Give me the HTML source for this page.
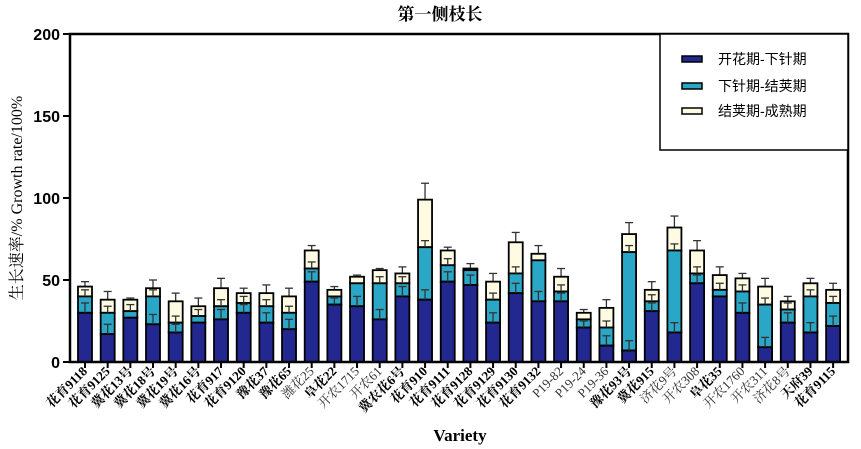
<!DOCTYPE html>
<html><head><meta charset="utf-8"><style>
body{margin:0;background:#fff;width:861px;height:449px;overflow:hidden}
svg{display:block}
</style></head><body>
<svg id="s" width="861" height="449" xmlns="http://www.w3.org/2000/svg" font-family="'Liberation Serif','Noto Serif CJK SC',serif">
<text x="440" y="20" text-anchor="middle" font-size="17" font-weight="bold">第一侧枝长</text>
<text transform="translate(22,198) rotate(-90)" text-anchor="middle" font-size="16">生长速率/% Growth rate/100%</text>
<text x="460" y="441" text-anchor="middle" font-size="17" font-weight="bold">Variety</text>
<g id="bars"></g>
<rect x="70" y="34" width="778" height="328" fill="none" stroke="#000" stroke-width="2.5"/>
<g font-family="'Liberation Sans',sans-serif" font-weight="bold" font-size="16" text-anchor="end">
<text x="60" y="40">200</text><text x="60" y="122">150</text><text x="60" y="204">100</text><text x="60" y="286">50</text><text x="60" y="368">0</text>
</g>
<g stroke="#000" stroke-width="2"><line x1="63" y1="34" x2="70" y2="34"/><line x1="63" y1="116" x2="70" y2="116"/><line x1="63" y1="198" x2="70" y2="198"/><line x1="63" y1="280" x2="70" y2="280"/><line x1="63" y1="362" x2="70" y2="362"/></g>
<rect x="660" y="34" width="188" height="116" fill="#fff" stroke="#000" stroke-width="1.5"/>
<g font-family="'Liberation Sans','Noto Sans CJK SC',sans-serif" font-size="14">
<rect x="682" y="56" width="20" height="6" fill="#22288f" stroke="#000" stroke-width="1.5"/><text x="718" y="64">开花期-下针期</text>
<rect x="682" y="83" width="20" height="6" fill="#2aa6c6" stroke="#000" stroke-width="1.5"/><text x="718" y="91">下针期-结荚期</text>
<rect x="682" y="108" width="20" height="6" fill="#fffbe2" stroke="#000" stroke-width="1.5"/><text x="718" y="116">结荚期-成熟期</text>
</g>
<g id="labs" font-size="13"></g>
</svg>
<script>
var d=[[30,40,46],[17,30,38],[27,31,38],[23,40,45],[18,24,37],[24,28,34],[26,34,45],[30,36,42],[24,34,42],[20,30,40],[49,57,68],[35,40,44],[34,48,52],[26,48,56],[40,48,54],[38,70,99],[49,59,68],[47,56,57],[24,38,49],[42,54,73],[37,62,66],[37,43,52],[21,26,30],[10,21,33],[7,67,78],[31,37,44],[18,68,82],[48,54,68],[40,44,53],[30,43,51],[9,35,46],[24,32,37],[18,40,48],[22,36,44]];
var te=[3,5,1,5,5,5,6,3,5,5,3,2,1,1,4,10,2,3,5,6,5,5,2,5,7,5,7,6,5,3,5,3,3,4];
var names=["花育9118","花育9125","冀花13号","冀花18号","冀花19号","冀花16号","花育917","花育9120","豫花37","豫花65","潍花25","阜花22","开农1715","开农61","冀农花6号","花育910","花育9111","花育9128","花育9129","花育9130","花育9132","P19-82","P19-24","P19-36","豫花93号","冀花915","济花9号","开农308","阜花35","开农1760","开农311","济花8号","天府39","花育9115"];
var light={10:1,12:1,13:1,21:1,22:1,23:1,26:1,27:1,29:1,30:1,31:1};
var ns="http://www.w3.org/2000/svg",g=document.getElementById("bars"),L=document.getElementById("labs");
function Y(v){return 362-1.64*v}
function el(t,a,p){var e=document.createElementNS(ns,t);for(var k in a)e.setAttribute(k,a[k]);(p||g).appendChild(e);return e}
function eb(x,v,e){el("line",{x1:x,y1:Y(v),x2:x,y2:Y(v+e),stroke:"#333","stroke-width":1.3});el("line",{x1:x-4,y1:Y(v+e),x2:x+4,y2:Y(v+e),stroke:"#333","stroke-width":1.3});}
d.forEach(function(b,i){
 var cx=85+i*22.67,x=cx-7,w=14;
 eb(cx,b[2],te[i]);
 el("rect",{x:x,y:Y(b[2]),width:w,height:Y(b[1])-Y(b[2]),fill:"#fffbe2",stroke:"#000","stroke-width":1.8});
 el("rect",{x:x,y:Y(b[1]),width:w,height:Y(b[0])-Y(b[1]),fill:"#2aa6c6",stroke:"#000","stroke-width":1.8});
 el("rect",{x:x,y:Y(b[0]),width:w,height:362-Y(b[0]),fill:"#22288f",stroke:"#000","stroke-width":1.8});
 if(b[2]-b[1]>4)eb(cx,b[1],Math.min(4,b[2]-b[1]-1));
 if(b[1]-b[0]>4)eb(cx,b[0],Math.min(6,b[1]-b[0]-1));
 el("line",{x1:cx,y1:362,x2:cx,y2:368,stroke:"#000","stroke-width":2});
 var t=el("text",{transform:"translate("+(cx+3)+",372) rotate(-45)","text-anchor":"end","font-weight":light[i]?"normal":"bold",fill:light[i]?"#333":"#000"},L);
 t.textContent=names[i];
});
</script>
</body></html>
